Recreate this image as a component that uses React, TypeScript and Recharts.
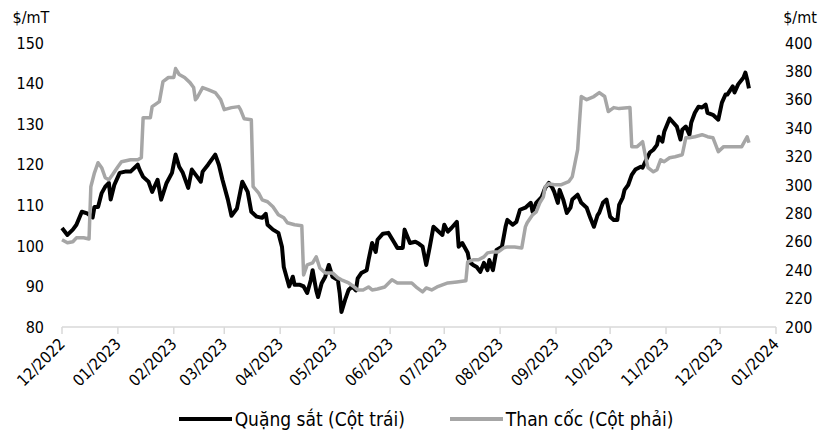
import { Legend, Line, LineChart, XAxis, YAxis } from 'recharts'

document.body.style.margin = '0'

const FONT = "'DejaVu Sans Condensed', 'DejaVu Sans', sans-serif"

const monthLabels = [
  '12/2022', '01/2023', '02/2023', '03/2023', '04/2023', '05/2023', '06/2023',
  '07/2023', '08/2023', '09/2023', '10/2023', '11/2023', '12/2023', '01/2024',
]
const leftTicks = [80, 90, 100, 110, 120, 130, 140, 150]
const rightTicks = [200, 220, 240, 260, 280, 300, 320, 340, 360, 380, 400]

// days since 01/12/2022
const oreDay = [
  0, 3, 6, 8, 11, 14, 17, 18, 20, 22, 24, 26, 27, 29, 32, 35, 38, 42, 43, 45, 48, 50, 53, 55, 58, 61, 63, 65,
  67, 70, 72, 75, 77, 78, 81, 85, 87, 89, 92, 94, 97, 100, 103, 105, 108, 111, 113, 114, 117, 120, 122, 123,
  125, 126, 128, 129, 132, 134, 136, 138, 139, 141, 142, 144, 146, 148, 150, 153, 154, 155, 157, 159, 161,
  163, 164, 166, 169, 170, 172, 174, 175, 178, 181, 184, 186, 189, 190, 193, 196, 198, 200, 202, 204, 206,
  209, 211, 212, 214, 216, 219, 220, 222, 225, 226, 228, 230, 232, 234, 236, 237, 239, 241, 244, 246, 247,
  250, 252, 254, 257, 260, 261, 263, 266, 268, 270, 272, 273, 275, 276, 278, 280, 282, 283, 286, 288, 291,
  293, 295, 297, 298, 300, 302, 304, 306, 308, 309, 311, 312, 314, 316, 318, 321, 322, 324, 326, 328, 330,
  331, 333, 334, 337, 339, 341, 343, 344, 346, 348, 349, 351, 353, 355, 357, 358, 361, 364, 366, 368, 369,
  372, 373, 375, 378, 379, 380, 381,
]
const oreValue = [
  104.4, 102.7, 104.0, 105.2, 108.4, 108.0, 107.0, 109.6, 109.6, 113.0, 114.6, 115.5, 111.4, 115.0, 118.0,
  118.3, 118.3, 120.0, 118.8, 117.0, 115.8, 113.3, 116.3, 111.4, 115.5, 118.0, 122.5, 119.5, 118.0, 114.3,
  118.8, 117.0, 115.8, 118.3, 120.0, 122.5, 120.0, 116.3, 111.4, 107.4, 109.2, 115.8, 113.3, 108.4, 107.2,
  106.9, 107.9, 105.2, 104.0, 103.2, 99.8, 94.8, 91.6, 90.0, 92.4, 90.4, 90.4, 90.0, 88.4, 91.6, 94.0, 89.0,
  87.4, 90.8, 92.4, 95.3, 92.4, 91.6, 88.4, 83.7, 86.7, 89.2, 90.0, 89.0, 92.0, 93.3, 94.0, 96.5, 100.7, 98.5,
  101.5, 103.0, 103.2, 101.0, 99.5, 99.5, 104.0, 100.7, 101.0, 100.5, 99.8, 95.3, 99.8, 104.7, 103.5, 102.7,
  105.2, 103.5, 104.4, 105.9, 99.8, 100.7, 98.3, 96.0, 95.3, 94.8, 93.6, 95.8, 94.0, 96.5, 94.0, 99.0, 99.8,
  104.7, 106.4, 105.2, 105.9, 108.9, 109.4, 110.6, 108.4, 110.6, 112.0, 114.3, 115.5, 114.3, 113.3, 110.6,
  113.8, 111.4, 108.1, 109.4, 111.4, 112.6, 110.6, 109.4, 106.9, 104.7, 107.5, 108.2, 110.6, 111.4, 107.2,
  106.4, 106.4, 110.1, 111.9, 113.8, 115.0, 117.5, 118.8, 119.5, 119.3, 121.2, 123.0, 123.7, 124.9, 126.9,
  125.7, 128.1, 131.4, 130.4, 129.4, 126.2, 128.6, 129.4, 127.4, 130.4, 132.8, 134.3, 134.1, 134.8, 132.8,
  132.3, 131.1, 135.3, 137.3, 137.3, 139.3, 137.8, 139.8, 141.5, 142.7, 141.0, 138.8,
]

const cokeDay = [
  0, 3, 6, 8, 12, 15, 16, 18, 20, 22, 24, 26, 28, 31, 33, 38, 42, 44, 45, 49, 50, 54, 56, 59, 62, 63, 65, 68,
  71, 73, 74, 75, 78, 81, 85, 88, 90, 94, 98, 99, 101, 105, 106, 109, 111, 114, 117, 120, 123, 125, 129, 133,
  134, 136, 139, 141, 143, 146, 150, 153, 155, 159, 162, 164, 167, 170, 172, 175, 179, 183, 186, 190, 194,
  197, 200, 202, 205, 208, 211, 214, 219, 224, 225, 228, 231, 234, 236, 239, 242, 245, 247, 251, 255, 257,
  258, 261, 263, 265, 267, 268, 270, 273, 277, 281, 283, 286, 287, 288, 291, 295, 298, 301, 303, 306, 309,
  315, 316, 319, 322, 324, 325, 328, 330, 332, 334, 337, 340, 344, 346, 348, 351, 355, 358, 361, 364, 367,
  372, 377, 380, 381,
]
const cokeValue = [
  261.4, 259.3, 260.0, 262.8, 262.8, 262.0, 298.8, 308.6, 315.7, 312.2, 305.1, 303.7, 307.2, 312.9, 316.4,
  317.8, 317.8, 319.2, 347.4, 347.4, 355.2, 358.7, 372.8, 375.7, 375.7, 382.0, 377.8, 375.7, 372.1, 368.6,
  360.1, 361.6, 368.6, 367.2, 365.1, 360.1, 353.1, 354.5, 355.2, 353.1, 346.7, 346.0, 298.8, 294.5, 289.6,
  288.2, 284.7, 279.0, 276.9, 273.4, 272.0, 271.3, 236.7, 243.7, 245.1, 249.4, 241.6, 238.1, 238.1, 234.6,
  233.2, 231.0, 228.2, 226.1, 226.1, 228.2, 226.1, 226.8, 228.2, 233.2, 231.0, 231.0, 231.0, 227.5, 224.7,
  227.5, 226.1, 228.2, 229.6, 231.0, 231.7, 232.5, 245.9, 247.3, 247.3, 249.4, 252.2, 252.9, 252.9, 255.7,
  256.4, 256.4, 255.7, 270.5, 273.4, 279.0, 281.1, 287.5, 291.7, 298.8, 300.9, 300.2, 300.2, 302.3, 305.8,
  324.9, 343.9, 362.3, 360.1, 362.3, 365.1, 362.3, 351.7, 354.5, 353.8, 354.5, 327.0, 327.0, 330.5, 317.8,
  312.2, 309.3, 310.8, 317.8, 316.4, 319.2, 319.9, 321.3, 333.3, 333.3, 334.0, 335.4, 334.0, 333.3, 323.5,
  327.0, 327.0, 327.0, 334.0, 329.8,
]

const START = Date.UTC(2022, 11, 1)
const dayOf = (label: string) => {
  const [m, y] = label.split('/').map(Number)
  return Math.round((Date.UTC(y, m - 1, 1) - START) / 86400000)
}
const monthTicks = monthLabels.map(dayOf)

type Row = { d: number; ore?: number; coke?: number }
const rows = new Map<number, Row>()
oreDay.forEach((d, i) => rows.set(d, { ...(rows.get(d) || { d }), ore: oreValue[i] }))
cokeDay.forEach((d, i) => rows.set(d, { ...(rows.get(d) || { d }), coke: cokeValue[i] }))
const data = [...rows.values()].sort((a, b) => a.d - b.d)

const series = [
  { key: 'ore', name: 'Quặng sắt (Cột trái)', color: '#000000' },
  { key: 'coke', name: 'Than cốc (Cột phải)', color: '#A6A6A6' },
]

function MonthTick({ x, y, payload }: any) {
  const label = monthLabels[monthTicks.indexOf(payload.value)]
  const ax = x + 4
  const ay = y + 11
  return (
    <text
      x={ax}
      y={ay}
      textAnchor="end"
      transform={`rotate(-45 ${ax} ${ay})`}
      fontSize={16}
      fontFamily={FONT}
      fill="#000"
    >
      {label}
    </text>
  )
}

function LegendContent() {
  return (
    <div
      style={{
        display: 'flex',
        justifyContent: 'center',
        gap: 45,
        paddingLeft: 28,
        paddingTop: 6,
        fontFamily: FONT,
        fontSize: 19,
        lineHeight: '22px',
        color: '#000',
      }}
    >
      {series.map((s) => (
        <div key={s.key} style={{ display: 'flex', alignItems: 'center' }}>
          <span style={{ display: 'inline-block', width: 53, height: 4, background: s.color, marginRight: 3 }} />
          {s.name}
        </div>
      ))}
    </div>
  )
}

export default function App() {
  return (
    <LineChart width={824} height={432} data={data} margin={{ top: 43, right: 0, bottom: 5, left: 0 }}>
      <XAxis
        dataKey="d"
        type="number"
        domain={[0, 396]}
        ticks={monthTicks}
        interval={0}
        height={75}
        tick={<MonthTick />}
        tickSize={7}
        tickMargin={0}
        axisLine={{ stroke: '#D9D9D9', strokeWidth: 1.5 }}
        tickLine={{ stroke: '#D9D9D9', strokeWidth: 1.5 }}
      />
      <YAxis
        yAxisId="left"
        domain={[80, 150]}
        ticks={leftTicks}
        interval={0}
        width={62}
        axisLine={false}
        tickLine={false}
        tickSize={0}
        tickMargin={18}
        tick={{ fontSize: 16, fill: '#000', fontFamily: FONT }}
        label={{ value: '$/mT', position: 'top', offset: 20, fontSize: 16, fill: '#000', fontFamily: FONT }}
      />
      <YAxis
        yAxisId="right"
        orientation="right"
        domain={[200, 400]}
        ticks={rightTicks}
        interval={0}
        width={48}
        axisLine={false}
        tickLine={false}
        tickSize={0}
        tickMargin={9}
        tick={{ fontSize: 16, fill: '#000', fontFamily: FONT }}
        label={{ value: '$/mt', position: 'top', offset: 20, fontSize: 16, fill: '#000', fontFamily: FONT }}
      />
      <Legend verticalAlign="bottom" height={25} content={<LegendContent />} />
      <Line
        yAxisId="left"
        dataKey="ore"
        name={series[0].name}
        type="linear"
        stroke={series[0].color}
        strokeWidth={4}
        strokeLinejoin="round"
        dot={false}
        connectNulls
        isAnimationActive={false}
      />
      <Line
        yAxisId="right"
        dataKey="coke"
        name={series[1].name}
        type="linear"
        stroke={series[1].color}
        strokeWidth={3.5}
        strokeLinejoin="round"
        dot={false}
        connectNulls
        isAnimationActive={false}
      />
    </LineChart>
  )
}
